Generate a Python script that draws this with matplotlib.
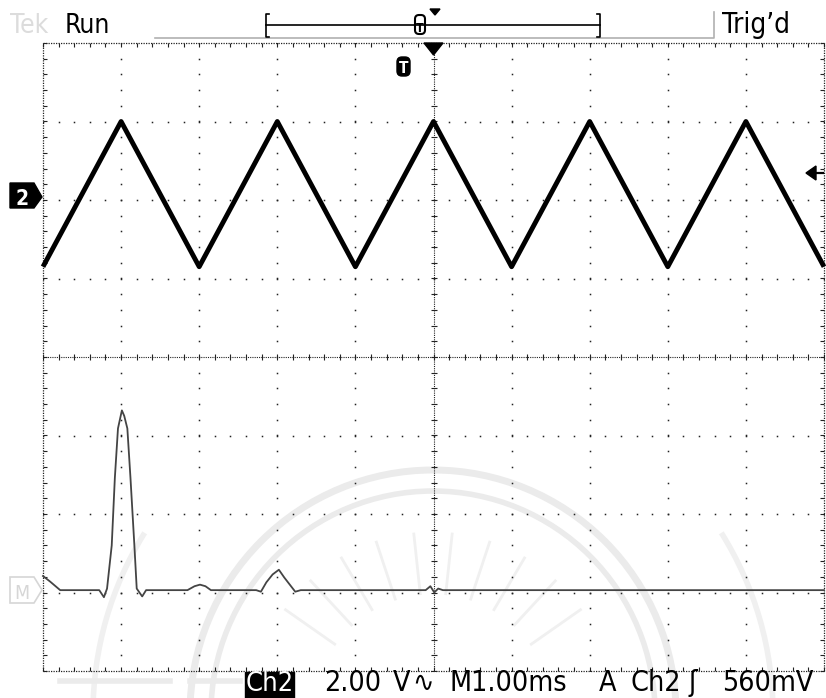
import numpy as np
import matplotlib.pyplot as plt
from matplotlib.patches import Polygon, Arc, FancyBboxPatch, Rectangle

W, H = 826, 698

# channel 2 triangle wave, corner points (ms, volts)
ch2_t = [-5, -4, -3, -2, -1, 0, 1, 2, 3, 4, 5]
ch2_v = [-1.7, 2.0, -1.7, 2.0, -1.7, 2.0, -1.7, 2.0, -1.7, 2.0, -1.7]
ch2_vdiv = 2.0      # V/div
ch2_offset = 2.0    # divisions above centre

# math trace (divisions above its marker)
math_t = [-5.0, -4.91, -4.78, -4.28, -4.22, -4.18, -4.12, -4.08, -4.04, -3.99,
          -3.96, -3.92, -3.88, -3.83, -3.80, -3.73, -3.68, -3.15, -3.06, -2.99,
          -2.92, -2.85, -2.27, -2.21, -2.14, -2.06, -1.98, -1.91, -1.84, -1.77,
          -1.70, -0.10, -0.04, 0.01, 0.06, 0.12, 5.0]
math_v = [0.18, 0.11, 0.0, 0.0, -0.09, 0.02, 0.57, 1.43, 2.06, 2.29,
          2.22, 2.06, 1.43, 0.57, 0.02, -0.08, 0.0, 0.0, 0.05, 0.07,
          0.05, 0.0, 0.0, -0.02, 0.1, 0.2, 0.26, 0.16, 0.07, -0.02,
          0.0, 0.0, 0.05, -0.03, 0.02, 0.0, 0.0]
math_offset = -2.97

# status line texts
top_left = ["Tek", "Run"]
top_right = "Trig\u2019d"
bottom_items = ["2.00", "V", "\u223f", "M1.00ms", "A", "Ch2", "\u0283", "560mV"]

FONT = dict(family=["DejaVu Sans"], fontstretch="condensed")

fig = plt.figure(figsize=(W / 100, H / 100), dpi=100)

# background layer in pixel coords (watermark)
bg = fig.add_axes([0, 0, 1, 1])
bg.set_xlim(0, W)
bg.set_ylim(H, 0)
bg.axis("off")
wm = "#ebebeb"
for r, lw in [(243, 5), (222, 4)]:
    bg.add_patch(Arc((433, 713), 2 * r, 2 * r, theta1=180, theta2=360, color=wm, lw=lw))
bg.add_patch(Arc((433, 713), 680, 680, theta1=180, theta2=212, color="#f0f0f0", lw=4))
bg.add_patch(Arc((433, 713), 680, 680, theta1=328, theta2=360, color="#f0f0f0", lw=4))
for ang in np.linspace(215, 325, 10):
    a = np.deg2rad(ang)
    bg.plot([433 + 120 * np.cos(a), 433 + 180 * np.cos(a)],
            [713 + 120 * np.sin(a), 713 + 180 * np.sin(a)], color="#f0f0f0", lw=2)
bg.plot([60, 170], [681, 681], color=wm, lw=4)
bg.plot([190, 240], [681, 681], color=wm, lw=4)

# graticule + traces
ax = fig.add_axes([43 / W, (H - 671) / H, 781 / W, 628 / H])
ax.set_xlim(-5, 5)
ax.set_ylim(-4, 4)
ax.axis("off")
ax.patch.set_alpha(0)

gc = "#222222"
xs = np.arange(-5, 5.001, 0.2)
ys = np.arange(-4, 4.001, 0.2)
for gx in [-4, -3, -2, -1, 1, 2, 3, 4]:
    ax.plot(np.full_like(ys, gx), ys, ls="none", marker="s", ms=1.1, mew=0, color=gc)
for gy in [-3, -2, -1, 1, 2, 3]:
    ax.plot(xs, np.full_like(xs, gy), ls="none", marker="s", ms=1.1, mew=0, color=gc)

dense = (0, (1, 1))
ax.plot([-5, 5], [0, 0], ls=dense, lw=0.8, color=gc)
ax.plot([0, 0], [-4, 4], ls=dense, lw=0.8, color=gc)
ax.plot(xs, np.zeros_like(xs), ls="none", marker="|", ms=5, mew=0.8, color=gc)
ax.plot(np.zeros_like(ys), ys, ls="none", marker="_", ms=5, mew=0.8, color=gc)

# border with inner ticks
for xx, yy in [([-5, 5], [4, 4]), ([-5, 5], [-4, -4]), ([-5, -5], [-4, 4]), ([5, 5], [-4, 4])]:
    ax.plot(xx, yy, ls=dense, lw=0.9, color=gc, clip_on=False)
ax.plot(xs, np.full_like(xs, 4), ls="none", marker=3, ms=3, mew=0.8, color=gc, clip_on=False)
ax.plot(xs, np.full_like(xs, -4), ls="none", marker=2, ms=3, mew=0.8, color=gc, clip_on=False)
ax.plot(np.full_like(ys, -5), ys, ls="none", marker=1, ms=3, mew=0.8, color=gc, clip_on=False)
ax.plot(np.full_like(ys, 5), ys, ls="none", marker=0, ms=3, mew=0.8, color=gc, clip_on=False)

ch2_div = np.array(ch2_v) / ch2_vdiv + ch2_offset
ax.plot(ch2_t, ch2_div, color="black", lw=3.5, solid_joinstyle="round", solid_capstyle="butt", clip_on=False)
ax.plot(math_t, np.array(math_v) + math_offset, color="#444444", lw=1.3, clip_on=False)

# foreground layer in pixel coords (markers, readouts)
fg = fig.add_axes([0, 0, 1, 1])
fg.set_xlim(0, W)
fg.set_ylim(H, 0)
fg.axis("off")
fg.patch.set_alpha(0)

fg.text(10, 33, top_left[0], color="#dcdcdc", fontsize=19, **FONT)
fg.text(65, 33, top_left[1], color="black", fontsize=19, **FONT)
fg.text(722, 33, top_right, color="black", fontsize=20, **FONT)

# record bar
fg.plot([155, 714, 714], [38, 38, 12], color="#b0b0b0", lw=1.2)
fg.plot([266, 600], [25, 25], color="black", lw=1.2)
fg.plot([269, 266, 266, 269], [14, 14, 37, 37], color="black", lw=1.2)
fg.plot([597, 600, 600, 597], [14, 14, 37, 37], color="black", lw=1.2)
fg.add_patch(FancyBboxPatch((415, 15), 10, 19, boxstyle="round,pad=0,rounding_size=4",
                            fc="white", ec="black", lw=1.5))
fg.text(420, 32, "T", ha="center", fontsize=9, fontweight="bold", **FONT)
fg.add_patch(Polygon([[430, 9], [440, 9], [435, 15]], closed=True, color="black"))

# trigger position marker
fg.add_patch(Polygon([[424, 43], [443, 43], [433.5, 55]], closed=True, color="black"))
fg.add_patch(FancyBboxPatch((397, 57), 13, 19, boxstyle="round,pad=0,rounding_size=5",
                            fc="black", ec="black"))
fg.text(403.5, 73, "T", ha="center", color="white", fontsize=11, fontweight="bold", **FONT)

# channel 2 ground marker
fg.add_patch(Polygon([[10, 183], [34, 183], [42, 197], [34, 208], [10, 208]], closed=True, color="black"))
fg.text(22, 205, "2", ha="center", color="white", fontsize=15, fontweight="bold", **FONT)

# math marker
fg.add_patch(Polygon([[10, 577], [34, 577], [42, 590], [34, 603], [10, 603]], closed=True,
                     fc="white", ec="#d6d6d6", lw=1.2))
fg.text(22, 599, "M", ha="center", color="#d6d6d6", fontsize=14, **FONT)

# trigger level arrow on right
fg.add_patch(Polygon([[806, 173], [816, 166], [816, 180]], closed=True, color="black"))
fg.plot([814, 823], [173, 173], color="black", lw=1.6)

# bottom readout
fg.add_patch(Rectangle((245, 672), 49, 26, color="black"))
fg.text(269.5, 691, "Ch2", ha="center", color="white", fontsize=19.5, **FONT)
bx = [324, 393, 412, 450, 599, 630, 688, 722]
for x0, s in zip(bx, bottom_items):
    fg.text(x0, 691, s, color="black", fontsize=20.5, **FONT)

fig.savefig("out.png", dpi=100)
